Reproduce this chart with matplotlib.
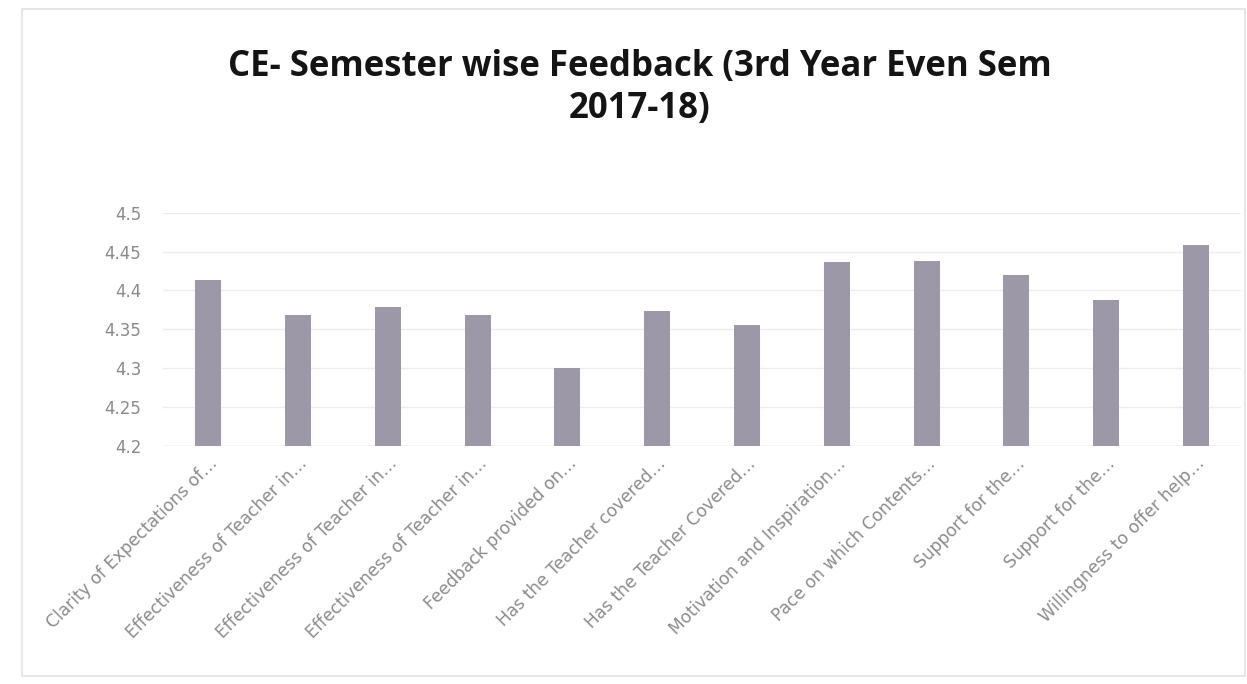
import matplotlib
matplotlib.use("Agg")
import matplotlib.pyplot as plt
from matplotlib.patches import Rectangle

title = "CE- Semester wise Feedback (3rd Year Even Sem\n2017-18)"
categories = [
    "Clarity of Expectations of…",
    "Effectiveness of Teacher in…",
    "Effectiveness of Teacher in…",
    "Effectiveness of Teacher in…",
    "Feedback provided on…",
    "Has the Teacher covered…",
    "Has the Teacher Covered…",
    "Motivation and Inspiration…",
    "Pace on which Contents…",
    "Support for the…",
    "Support for the…",
    "Willingness to offer help…",
]
scores = [4.414, 4.369, 4.379, 4.369, 4.30, 4.374, 4.356, 4.437, 4.438, 4.42, 4.388, 4.459]
y_ticks = [4.2, 4.25, 4.3, 4.35, 4.4, 4.45, 4.5]
y_labels = ["4.2", "4.25", "4.3", "4.35", "4.4", "4.45", "4.5"]

fig = plt.figure(figsize=(12.47, 6.84), dpi=100)
# faint outline of the pasted chart box
fig.patches.append(Rectangle((0.018, 0.012), 0.98, 0.975, transform=fig.transFigure,
                             fill=False, edgecolor="#e2e2e2", linewidth=1.2))

ax = fig.add_axes([0.131, 0.348, 0.864, 0.341])
x = list(range(len(categories)))
ax.bar(x, [s - 4.2 for s in scores], bottom=4.2, width=0.29, color="#9c98a8", zorder=3)

ax.set_ylim(4.2, 4.5)
ax.set_xlim(-0.5, len(categories) - 0.5)
ax.set_yticks(y_ticks)
ax.set_yticklabels(y_labels)
ax.grid(axis="y", color="#ececec", linewidth=1.0, zorder=0)
for spine in ax.spines.values():
    spine.set_visible(False)
ax.axhline(4.2, color="#d8d8d8", linewidth=1.0, zorder=2)
ax.tick_params(axis="both", length=0, colors="#8a8a8a")
ax.tick_params(axis="y", pad=16, labelsize=12)

ax.set_xticks(x)
ax.set_xticklabels(categories, rotation=45, ha="right", rotation_mode="anchor",
                   fontsize=12.3, color="#8c8c8c")
ax.tick_params(axis="x", pad=6)

fig.text(0.513, 0.928, title, ha="center", va="top", fontsize=25, fontweight="bold",
         color="#141414", family="Open Sans", linespacing=1.2)

fig.savefig("out.png", dpi=100, facecolor="white")
